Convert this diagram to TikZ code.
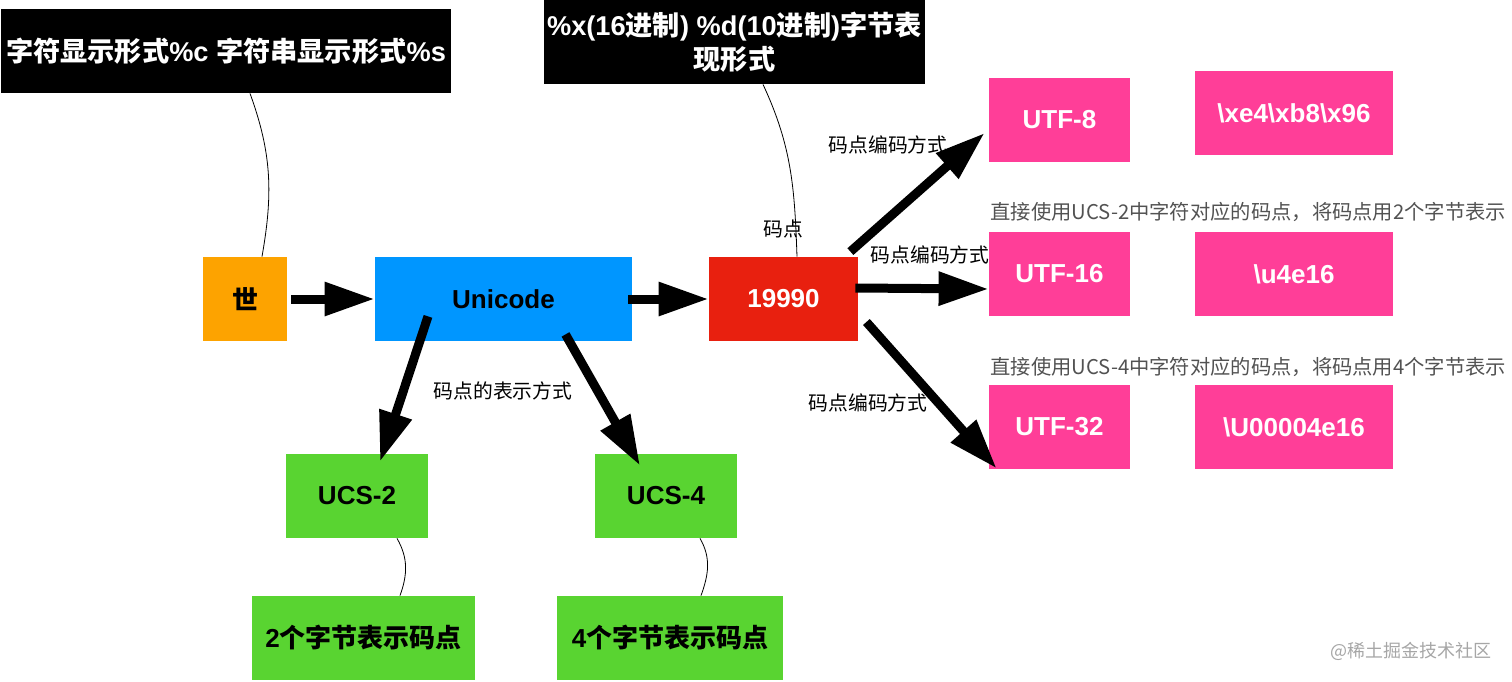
\documentclass[tikz,border=0pt]{standalone}
\usepackage{fontspec}
\setmainfont{Liberation Sans}
\newfontfamily\cjk{Noto Sans CJK SC}
\usetikzlibrary{arrows.meta}
\definecolor{shiorange}{HTML}{FDA300}
\definecolor{uniblue}{HTML}{0096FF}
\definecolor{cpred}{HTML}{E8200F}
\definecolor{utfpink}{HTML}{FF3E98}
\definecolor{ucsgreen}{HTML}{59D431}
\tikzset{
  box/.style={minimum height=42pt, inner sep=0pt, align=center,
    font=\bfseries\fontsize{13}{17}\selectfont},
  fmtbox/.style={box, fill=black, text=white, font=\bfseries\fontsize{13.6}{17}\selectfont},
  pinkbox/.style={box, fill=utfpink, text=white},
  greenbox/.style={box, fill=ucsgreen, text=black},
  lbl/.style={font=\cjk\fontsize{9.9}{11}\selectfont, inner sep=0pt},
  note/.style={font=\cjk\fontsize{10.15}{12}\selectfont, text=black!68, inner sep=0pt, anchor=west},
  bigarrow/.style={line width=4.5pt, -{Triangle[length=25pt,width=16pt]}},
  link/.style={thin}
}
\begin{document}
\begin{tikzpicture}[x=0.5pt, y=-0.5pt]
\useasboundingbox (0,0) rectangle (1512,681);
% format boxes on top
\node[fmtbox, minimum width=225pt] (fmtc) at (226,51) {{\cjk 字符显示形式}\%c {\cjk 字符串显示形式}\%s};
\node[fmtbox, minimum width=190.5pt] (fmtx) at (734.5,42) {\%x(16{\cjk 进制}) \%d(10{\cjk 进制}){\cjk 字节表}\\{\cjk 现形式}};
% main row
\node[box, fill=shiorange, minimum width=42pt] (shi) at (245,299) {\cjk 世};
\node[box, fill=uniblue, minimum width=128.5pt] (uni) at (503.5,299) {Unicode};
\node[box, fill=cpred, text=white, minimum width=74.5pt] (cp) at (783.5,299) {19990};
% utf encodings
\node[pinkbox, minimum width=70.5pt] (utf8) at (1059.5,120) {UTF-8};
\node[pinkbox, minimum width=99pt] (hex8) at (1294,113) {\textbackslash xe4\textbackslash xb8\textbackslash x96};
\node[pinkbox, minimum width=70.5pt] (utf16) at (1059.5,274) {UTF-16};
\node[pinkbox, minimum width=99pt] (esc16) at (1294,274) {\textbackslash u4e16};
\node[pinkbox, minimum width=70.5pt] (utf32) at (1059.5,427) {UTF-32};
\node[pinkbox, minimum width=99pt] (esc32) at (1294,427) {\textbackslash U00004e16};
% ucs
\node[greenbox, minimum width=71pt] (ucs2) at (357,496) {UCS-2};
\node[greenbox, minimum width=71pt] (ucs4) at (666,496) {UCS-4};
\node[greenbox, minimum width=111.5pt] (byte2) at (363.5,638) {2{\cjk 个字节表示码点}};
\node[greenbox, minimum width=113pt] (byte4) at (670,638) {4{\cjk 个字节表示码点}};
% labels
\node[lbl] (l8) at (888,145) {码点编码方式};
\node[lbl] (l16) at (930,255) {码点编码方式};
\node[lbl] (l32) at (868,403) {码点编码方式};
\node[lbl] (lrep) at (503,391) {码点的表示方式};
\node[lbl] (lcp) at (783,229) {码点};
\node[note] (n2) at (990,212) {直接使用UCS-2中字符对应的码点，将码点用2个字节表示};
\node[note] (n4) at (990,367) {直接使用UCS-4中字符对应的码点，将码点用4个字节表示};
\node[font=\cjk\fontsize{9}{11}\selectfont, text=black!35, inner sep=0pt] (mark) at (1411,651) {@稀土掘金技术社区};
% thick arrows
\draw[bigarrow, shorten <=2pt] (shi) -- (uni);
\draw[bigarrow, shorten <=-2pt] (uni) -- (cp);
\draw[bigarrow] ([xshift=-37.75pt,yshift=12.5pt]uni.south) -- ([xshift=11.5pt,yshift=-4pt]ucs2.north);
\draw[bigarrow] ([xshift=31pt,yshift=3.5pt]uni.south) -- ([xshift=-13pt,yshift=-6pt]ucs4.north);
\draw[bigarrow] ([xshift=-4pt,yshift=2.5pt]cp.north east) -- ([xshift=-2pt,yshift=-6.5pt]utf8.west);
\draw[bigarrow] ([xshift=-1.5pt,yshift=5.5pt]cp.east) -- ([yshift=-7.5pt]utf16.west);
\draw[bigarrow] ([xshift=4pt,yshift=-11.5pt]cp.east) -- ([xshift=4pt,yshift=0.5pt]utf32.south west);
% thin links
\draw[link] ([xshift=12pt]fmtc.south) to[out=-70,in=80] ([xshift=8.5pt]shi.north);
\draw[link] ([xshift=14.25pt]fmtx.south) to[out=-65,in=92] ([xshift=6.75pt]cp.north);
\draw[link] ([xshift=20pt]ucs2.south) to[out=-60,in=70] ([xshift=18.25pt]byte2.north);
\draw[link] ([xshift=17pt]ucs4.south) to[out=-60,in=70] ([xshift=15.5pt]byte4.north);
\end{tikzpicture}
\end{document}
